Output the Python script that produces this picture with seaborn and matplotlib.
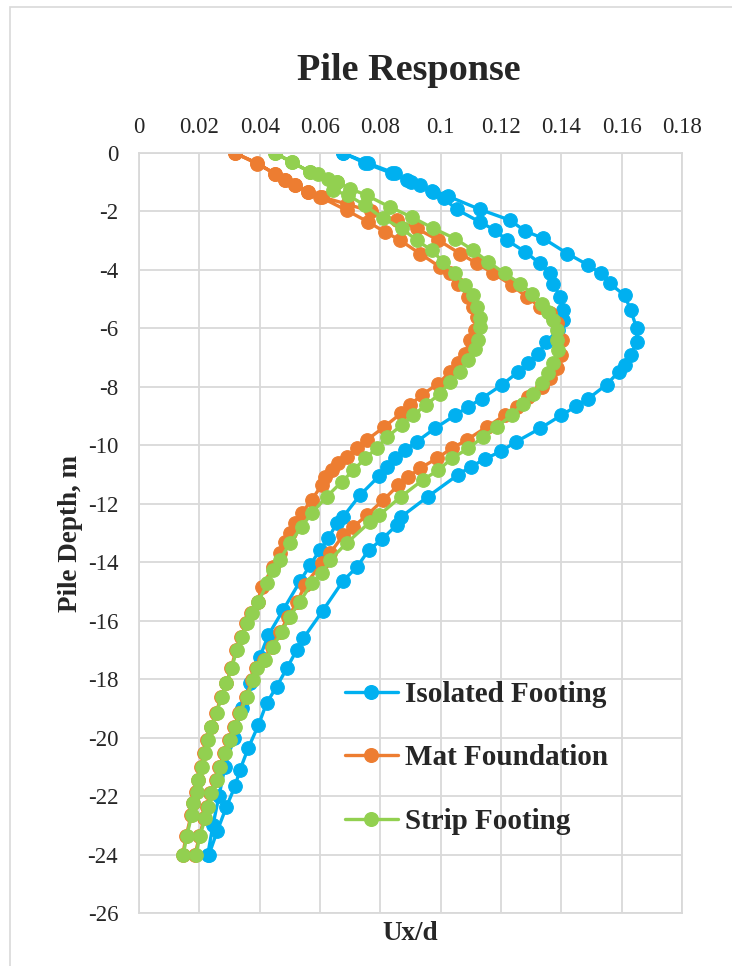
import matplotlib
matplotlib.use("Agg")
import matplotlib.pyplot as plt
from matplotlib.lines import Line2D
from matplotlib.patches import Rectangle
import seaborn as sns

# ---- Isolated footing: outer branch (top -> bottom) and inner branch (top -> bottom)
iso_outer_depth = [0, -0.35, -0.7, -0.93, -1.1, -1.34, -1.48, -1.93, -2.3, -2.67, -2.92, -3.44,
                   -3.84, -4.12, -4.46, -4.87, -5.38, -6.0, -6.46, -6.92, -7.26, -7.49, -7.92,
                   -8.4, -8.66, -8.97, -9.42, -9.88, -10.2, -10.47, -10.73, -11.02, -11.76,
                   -12.44, -12.73, -13.22, -13.58, -14.17, -14.63, -15.66, -16.6, -17.0,
                   -17.63, -18.26, -18.82, -19.57, -20.36, -21.1, -21.67, -22.36, -23.18, -24.0]
iso_outer_ux = [0.0677, 0.076, 0.085, 0.089, 0.093, 0.0975, 0.1025, 0.113, 0.123, 0.128, 0.134, 0.142,
                0.149, 0.153, 0.156, 0.161, 0.163, 0.165, 0.165, 0.163, 0.161, 0.159, 0.155,
                0.149, 0.145, 0.140, 0.133, 0.125, 0.120, 0.1147, 0.110, 0.1056, 0.0957,
                0.087, 0.0854, 0.0805, 0.0762, 0.0722, 0.0677, 0.0609, 0.0545, 0.0523,
                0.049, 0.0456, 0.0423, 0.0396, 0.0362, 0.0335, 0.0318, 0.029, 0.026, 0.0232]
iso_inner_depth = [0, -0.35, -0.7, -1.0, -1.3, -1.55, -1.93, -2.36, -2.64, -2.98, -3.38, -3.78,
                   -4.12, -4.47, -4.92, -5.38, -5.72, -6.05, -6.46, -6.86, -7.2, -7.49, -7.94,
                   -8.4, -8.68, -8.97, -9.42, -9.88, -10.16, -10.45, -10.73, -11.05, -11.7,
                   -12.44, -12.67, -13.18, -13.58, -14.1, -14.65, -15.63, -16.49, -17.23,
                   -18.14, -19.0, -20.0, -21.0, -22.0, -23.0, -24.0]
iso_inner_ux = [0.0677, 0.075, 0.084, 0.09, 0.097, 0.101, 0.1053, 0.113, 0.118, 0.1219, 0.128, 0.1329,
                0.1362, 0.1373, 0.1396, 0.1407, 0.1407, 0.139, 0.135, 0.1324, 0.129, 0.1257, 0.1202,
                0.1136, 0.1092, 0.1048, 0.0981, 0.092, 0.0882, 0.0849, 0.0821, 0.0796, 0.0733,
                0.0677, 0.0655, 0.0628, 0.06, 0.0567, 0.0534, 0.0478, 0.0429, 0.0401,
                0.0368, 0.034, 0.0315, 0.0285, 0.0265, 0.0245, 0.0228]

# ---- Mat foundation
mat_outer_depth = [0, -0.36, -0.71, -0.93, -1.1, -1.33, -1.5, -1.75, -2.0, -2.3, -2.58, -2.98,
                   -3.44, -3.78, -4.12, -4.52, -4.92, -5.26, -5.49, -5.83, -6.4, -6.9, -7.37,
                   -7.71, -8.0, -8.34, -8.68, -8.97, -9.37, -9.82, -10.1, -10.45, -10.79,
                   -11.08, -11.36, -11.87, -12.39, -12.79, -13.07, -13.7, -14.04, -14.78,
                   -15.35, -15.86, -16.38, -16.89, -17.34, -17.63, -18.03, -18.6, -19.17,
                   -19.62, -20.08, -20.53, -20.99, -21.45, -21.9, -22.36, -22.76, -23.38, -24.0]
mat_outer_ux = [0.0318, 0.039, 0.0451, 0.0484, 0.0517, 0.0561, 0.0605, 0.069, 0.077, 0.0854, 0.092, 0.0992,
                0.1064, 0.112, 0.1175, 0.1235, 0.1285, 0.1329, 0.1362, 0.1385, 0.1401, 0.1398, 0.1385,
                0.1362, 0.1335, 0.1291, 0.1252, 0.1213, 0.1153, 0.1086, 0.1037, 0.0987, 0.0931,
                0.0893, 0.086, 0.081, 0.0755, 0.0711, 0.0677, 0.0633, 0.0606, 0.055,
                0.0525, 0.0495, 0.0468, 0.044, 0.0413, 0.0388, 0.0376, 0.0354, 0.0332,
                0.0315, 0.0299, 0.0282, 0.0266, 0.0254, 0.0237, 0.0226, 0.0216, 0.02, 0.0186]
mat_inner_depth = [0, -0.34, -0.71, -0.93, -1.1, -1.33, -1.5, -1.96, -2.36, -2.7, -2.98, -3.44,
                   -3.9, -4.12, -4.47, -4.92, -5.26, -5.61, -6.06, -6.4, -6.86, -7.2, -7.49,
                   -7.89, -8.28, -8.63, -8.91, -9.37, -9.82, -10.1, -10.39, -10.62, -10.85,
                   -11.08, -11.36, -11.87, -12.33, -12.67, -13.01, -13.3, -13.7, -14.15, -14.84,
                   -15.35, -15.75, -16.09, -16.55, -17.0, -17.63, -18.14, -18.6, -19.17, -19.62,
                   -20.08, -20.53, -20.99, -21.45, -21.85, -22.24, -22.64, -23.38, -24.0]
mat_inner_ux = [0.0318, 0.039, 0.0451, 0.0484, 0.0517, 0.0561, 0.06, 0.0688, 0.076, 0.0815, 0.0865, 0.0931,
                0.0998, 0.1031, 0.1058, 0.1092, 0.1108, 0.112, 0.1114, 0.1097, 0.108, 0.1058, 0.1031,
                0.0992, 0.0937, 0.0898, 0.0868, 0.0813, 0.0755, 0.0722, 0.0688, 0.066, 0.0639,
                0.0617, 0.0606, 0.0572, 0.0539, 0.0517, 0.05, 0.0484, 0.0467, 0.0445, 0.0407,
                0.0393, 0.0372, 0.0355, 0.0338, 0.0322, 0.0305, 0.029, 0.0272, 0.0255, 0.0238,
                0.0227, 0.0217, 0.0206, 0.0195, 0.019, 0.0178, 0.0173, 0.0156, 0.0145]

# ---- Strip footing
strip_outer_depth = [0, -0.31, -0.65, -0.71, -0.88, -0.99, -1.22, -1.45, -1.85, -2.19, -2.58, -2.93,
                     -3.33, -3.73, -4.12, -4.47, -4.81, -5.15, -5.44, -5.72, -6.06, -6.4, -6.75,
                     -7.2, -7.54, -7.88, -8.23, -8.57, -8.97, -9.37, -9.71, -10.1, -10.45, -10.85,
                     -11.19, -11.76, -12.39, -12.62, -13.35, -13.92, -14.38, -14.72, -15.35,
                     -15.86, -16.38, -16.89, -17.34, -17.63, -18.03, -18.6, -19.17, -19.62,
                     -20.08, -20.53, -20.99, -21.45, -21.9, -22.36, -22.76, -23.38, -24.0]
strip_outer_ux = [0.0451, 0.0506, 0.0567, 0.0594, 0.0628, 0.0655, 0.07, 0.0755, 0.0832, 0.0904, 0.0976, 0.1048,
                  0.1108, 0.1158, 0.1213, 0.1263, 0.1302, 0.1335, 0.1357, 0.1373, 0.1385, 0.1385, 0.139,
                  0.1373, 0.1357, 0.1335, 0.1307, 0.1274, 0.1235, 0.1186, 0.1141, 0.1092, 0.1037, 0.0992,
                  0.094, 0.0868, 0.0796, 0.0766, 0.0688, 0.0633, 0.0606, 0.0572, 0.0534,
                  0.05, 0.0473, 0.0445, 0.0418, 0.039, 0.0379, 0.0357, 0.0335, 0.0318,
                  0.0302, 0.0285, 0.0269, 0.0257, 0.024, 0.0229, 0.0219, 0.0202, 0.0188]
strip_inner_depth = [0, -0.31, -0.65, -0.99, -1.27, -1.45, -1.79, -2.24, -2.58, -2.98, -3.33, -3.73,
                     -4.12, -4.52, -4.86, -5.26, -5.66, -5.95, -6.4, -6.69, -7.09, -7.49, -7.83,
                     -8.23, -8.63, -8.97, -9.31, -9.71, -10.1, -10.45, -10.85, -11.25, -11.76,
                     -12.33, -12.79, -13.35, -13.92, -14.27, -14.72, -15.35, -15.75, -16.09,
                     -16.55, -17.0, -17.63, -18.14, -18.6, -19.17, -19.62, -20.08, -20.53,
                     -20.99, -21.45, -21.85, -22.24, -22.64, -23.38, -24.0]
strip_inner_ux = [0.0451, 0.0506, 0.0567, 0.0655, 0.0644, 0.0694, 0.0749, 0.081, 0.0871, 0.092, 0.097, 0.1009,
                  0.1048, 0.1081, 0.1108, 0.112, 0.113, 0.113, 0.1125, 0.1114, 0.1092, 0.1064, 0.1031,
                  0.0998, 0.095, 0.0909, 0.0871, 0.0823, 0.0788, 0.0749, 0.0711, 0.0672, 0.0622,
                  0.0572, 0.0539, 0.05, 0.0467, 0.0445, 0.0425, 0.0396, 0.0374, 0.0357,
                  0.034, 0.0324, 0.0307, 0.029, 0.0274, 0.0257, 0.024, 0.0229, 0.0219,
                  0.0208, 0.0197, 0.0191, 0.018, 0.0175, 0.0158, 0.0147]

series_names = ["Isolated Footing", "Mat Foundation", "Strip Footing"]
series_colors = ["#00B0F0", "#ED7D31", "#92D050"]
x_ticks = [0, 0.02, 0.04, 0.06, 0.08, 0.1, 0.12, 0.14, 0.16, 0.18]
x_tick_labels = ["0", "0.02", "0.04", "0.06", "0.08", "0.1", "0.12", "0.14", "0.16", "0.18"]
y_ticks = list(range(0, -27, -2))

sns.set_style("white")
plt.rcParams["font.family"] = ["Liberation Serif", "DejaVu Serif"]
plt.rcParams["axes.unicode_minus"] = False

W, H = 732, 966
fig = plt.figure(figsize=(W / 100, H / 100), dpi=100)
ax = fig.add_axes([139 / W, 1 - 913 / H, (682 - 139) / W, (913 - 153) / H])

# chart-area border (extends past the right and bottom edges)
fig.patches.append(Rectangle((10 / W, -0.1), 1.2, 1.1 - 7 / H, transform=fig.transFigure,
                             fill=False, edgecolor="#d9d9d9", linewidth=1.2, zorder=0))

branches = [
    (iso_outer_depth, iso_outer_ux, iso_inner_depth, iso_inner_ux),
    (mat_outer_depth, mat_outer_ux, mat_inner_depth, mat_inner_ux),
    (strip_outer_depth, strip_outer_ux, strip_inner_depth, strip_inner_ux),
]

for (od, ou, idp, iu), name, col in zip(branches, series_names, series_colors):
    # down one pile branch, back up the other
    depth = list(od) + list(idp)[::-1]
    ux = list(ou) + list(iu)[::-1]
    sns.lineplot(x=ux, y=depth, sort=False, estimator=None, ax=ax, color=col,
                 linewidth=2.4, marker="o", markersize=9.8, markeredgecolor=col,
                 markeredgewidth=0.8, legend=False)

ax.set_xlim(0, 0.18)
ax.set_ylim(-26, 0)
ax.set_xticks(x_ticks)
ax.set_xticklabels(x_tick_labels)
ax.set_yticks(y_ticks)
ax.xaxis.tick_top()
ax.xaxis.set_label_position("bottom")
ax.tick_params(axis="x", length=0, pad=11, labelsize=16.5)
ax.tick_params(axis="y", length=0, pad=15, labelsize=16.5)
ax.grid(True, color="#d9d9d9", linewidth=1.3)
ax.set_axisbelow(True)
for s in ax.spines.values():
    s.set_color("#d9d9d9")
    s.set_linewidth(1.3)

ax.set_xlabel("Ux/d", fontsize=19.5, fontweight="bold", labelpad=6)
ax.set_ylabel("Pile Depth, m", fontsize=19.5, fontweight="bold", labelpad=3)

fig.text(409 / W, 1 - 80 / H, "Pile Response", ha="center", va="baseline",
         fontsize=27.5, fontweight="bold")

handles = [Line2D([], [], color=c, linewidth=2.4, marker="o", markersize=9.8,
                  markeredgecolor=c) for c in series_colors]
leg = ax.legend(handles, series_names, loc="upper left",
                bbox_to_anchor=((345 - 139) / (682 - 139), (913 - 681) / (913 - 153)),
                frameon=False, handlelength=1.8, handletextpad=0.25, labelspacing=1.25,
                borderaxespad=0, borderpad=0,
                prop={"family": "Liberation Serif", "weight": "bold", "size": 21})

fig.savefig("out.png", dpi=100, facecolor="white")
